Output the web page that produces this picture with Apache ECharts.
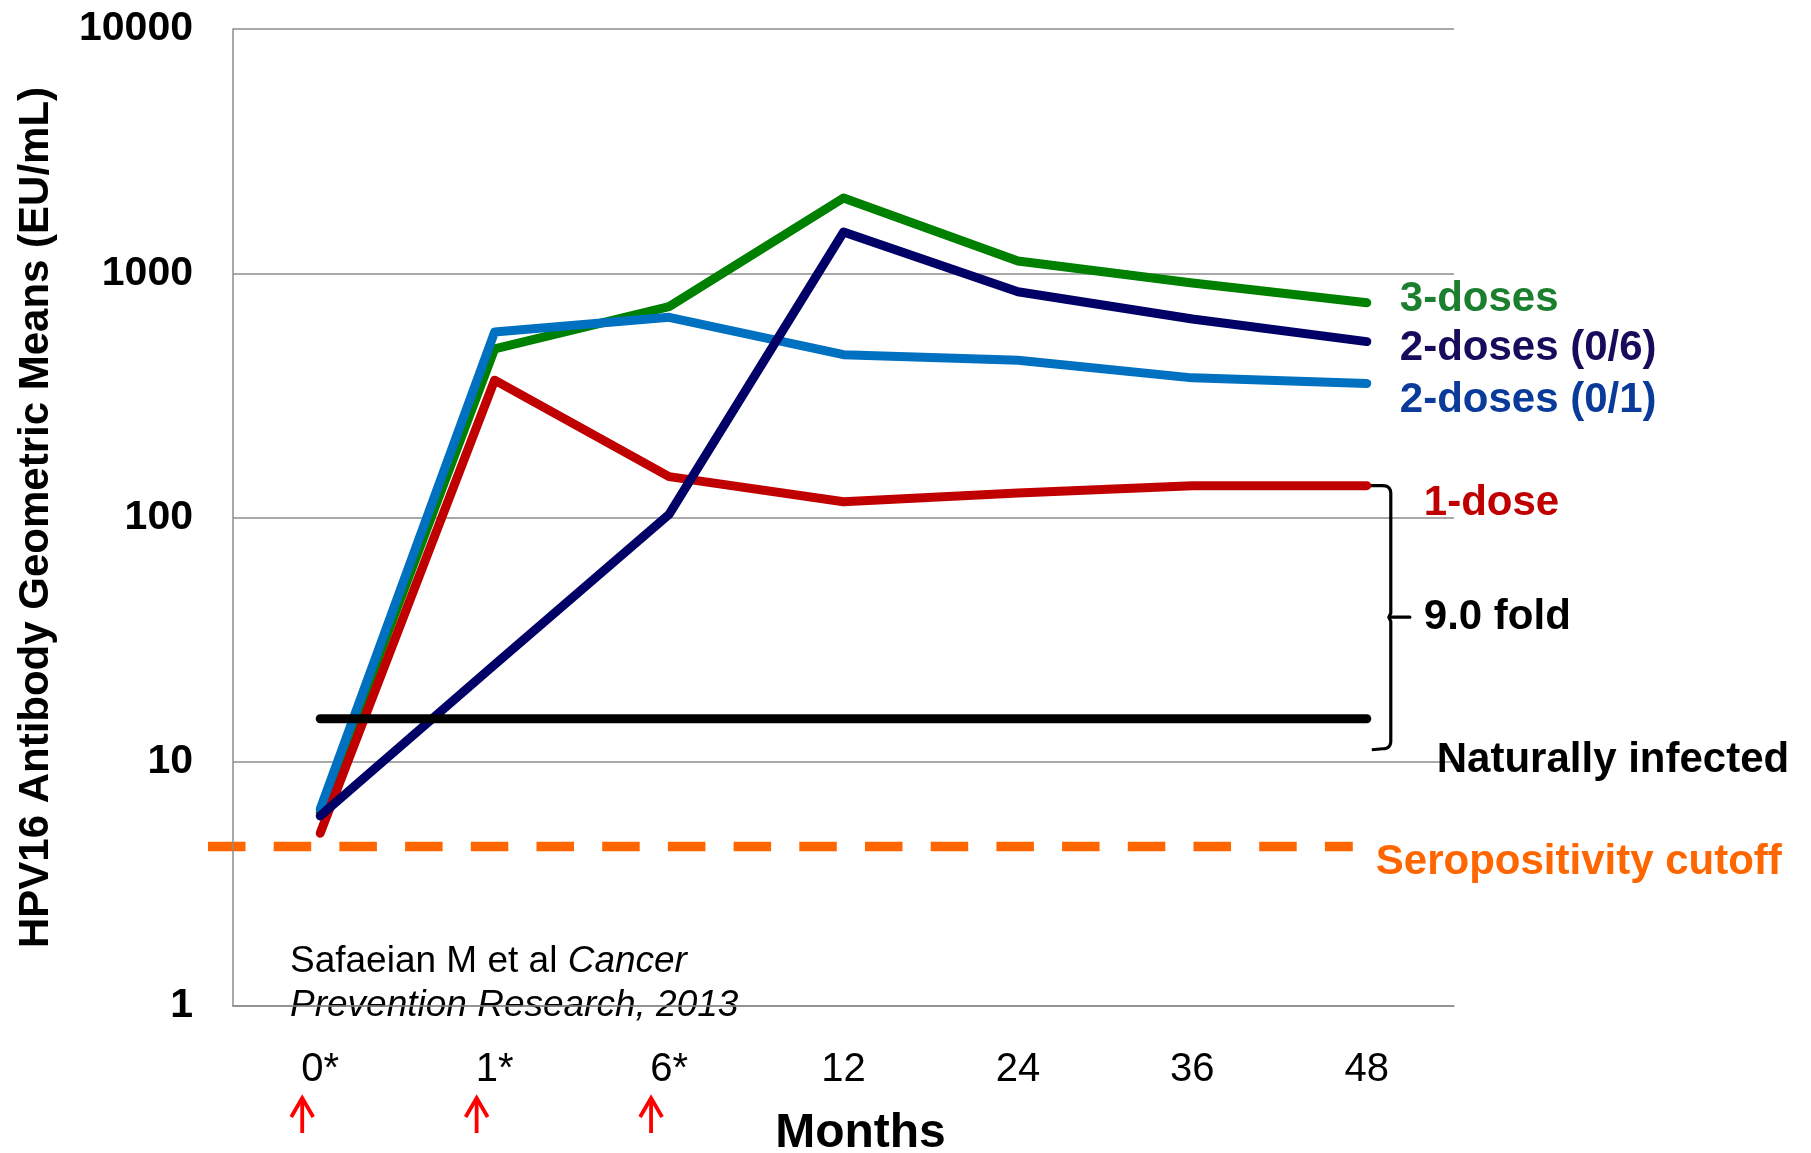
<!DOCTYPE html>
<html>
<head>
<meta charset="utf-8">
<script src="https://cdn.jsdelivr.net/npm/echarts@6/dist/echarts.min.js"></script>
<style>
  html, body { margin: 0; padding: 0; background: #ffffff; }
  #chart { width: 1811px; height: 1153px; }
</style>
</head>
<body>
<div id="chart"></div>
<script>
// Months after first dose (asterisk = dose given)
const months = ['0*', '1*', '6*', '12', '24', '36', '48'];
const doseMonths = ['0*', '1*', '6*'];

// HPV16 antibody geometric mean titres (EU/mL)
const threeDoses   = [6.2, 490, 730, 2032, 1122, 912, 757];
const twoDoses06   = [6.0, 25, 103, 1475, 840, 650, 525];
const twoDoses01   = [6.4, 575, 660, 464, 440, 373, 354];
const oneDose      = [5.1, 365, 147, 116, 126, 135, 135];
const naturallyInfected = [15.0, 15.0, 15.0, 15.0, 15.0, 15.0, 15.0];
const seropositivityCutoff = 4.5;
const foldLabel = '9.0 fold';

const FONT = '"Liberation Sans", Arial, Helvetica, sans-serif';
const GRID = { left: 233, top: 29, width: 1221, height: 977 };
const GRAY = '#8c8c8c';

const chart = echarts.init(document.getElementById('chart'), null, { renderer: 'canvas' });

function lineSeries(name, data, color) {
  return {
    name: name,
    type: 'line',
    data: data,
    symbol: 'none',
    silent: true,
    lineStyle: { color: color, width: 9, cap: 'round', join: 'round' },
    emphasis: { disabled: true }
  };
}

chart.setOption({
  animation: false,
  backgroundColor: '#ffffff',
  textStyle: { fontFamily: FONT },
  grid: Object.assign({ outerBoundsMode: 'none', containLabel: false }, GRID),
  xAxis: {
    type: 'category',
    data: months,
    boundaryGap: true,
    axisLine: { show: true, lineStyle: { color: GRAY, width: 1.5 } },
    axisTick: { show: false },
    axisLabel: { fontSize: 40, color: '#000', margin: 44, fontFamily: FONT },
    name: 'Months',
    nameLocation: 'middle',
    nameGap: 104,
    nameTextStyle: { fontSize: 48, fontWeight: 'bold', color: '#000', fontFamily: FONT, padding: [0, 0, 0, 34] }
  },
  yAxis: {
    type: 'log',
    logBase: 10,
    min: 1,
    max: 10000,
    axisLine: { show: true, lineStyle: { color: GRAY, width: 1.5 } },
    axisTick: { show: false },
    splitLine: { show: true, lineStyle: { color: GRAY, width: 1.5 } },
    axisLabel: {
      fontSize: 41, fontWeight: 'bold', color: '#000', margin: 40, fontFamily: FONT,
      formatter: function (v) { return String(Math.round(v)); }
    },
    name: 'HPV16 Antibody Geometric Means (EU/mL)',
    nameLocation: 'middle',
    nameGap: 176,
    nameRotate: 90,
    nameTextStyle: { fontSize: 42, fontWeight: 'bold', color: '#000', fontFamily: FONT }
  },
  series: [
    lineSeries('3-doses', threeDoses, '#008000'),
    lineSeries('2-doses (0/1)', twoDoses01, '#0070c0'),
    lineSeries('1-dose', oneDose, '#c00000'),
    lineSeries('2-doses (0/6)', twoDoses06, '#000066'),
    lineSeries('Naturally infected', naturallyInfected, '#000000')
  ]
});

// Annotations anchored to the data through the axes
const last = months.length - 1;
const px = (i, v) => chart.convertToPixel({ gridIndex: 0 }, [i, v]);
const xEnd = px(last, 1)[0];

function label(text, x, y, color, size, weight) {
  return {
    type: 'text', x: x, y: y, silent: true,
    style: {
      text: text, fill: color, align: 'left', verticalAlign: 'middle',
      font: (weight || 'bold') + ' ' + (size || 42) + 'px ' + FONT
    }
  };
}

const yThree = px(last, threeDoses[last])[1];
const yTwo06 = px(last, twoDoses06[last])[1];
const yTwo01 = px(last, twoDoses01[last])[1];
const yOne = px(last, oneDose[last])[1];
const yNat = px(last, naturallyInfected[last])[1];
const yCut = px(0, seropositivityCutoff)[1];

// Curly bracket between 1-dose and naturally infected
const yTop = yOne;
const yBot = yNat + 30;
const yMid = (yTop + yBot) / 2;
const xb = xEnd + 24;
const r = 8;
function quad(p0, c, p1, n) {
  const pts = [];
  for (let k = 1; k <= n; k++) {
    const t = k / n;
    pts.push([
      (1 - t) * (1 - t) * p0[0] + 2 * (1 - t) * t * c[0] + t * t * p1[0],
      (1 - t) * (1 - t) * p0[1] + 2 * (1 - t) * t * c[1] + t * t * p1[1]
    ]);
  }
  return pts;
}
let brace = [[xEnd + 4, yTop]];
brace.push([xb - r, yTop]);
brace = brace.concat(quad([xb - r, yTop], [xb, yTop], [xb, yTop + r], 8));
brace.push([xb, yMid - 4]);
brace.push([xb - 2, yMid]);
brace.push([xb, yMid + 4]);
brace.push([xb, yBot - r]);
brace = brace.concat(quad([xb, yBot - r], [xb, yBot], [xb - r, yBot], 8));
brace.push([xEnd + 5, yBot + 1]);

const graphics = [
  { type: 'polyline', silent: true, shape: { points: brace },
    style: { stroke: '#000', lineWidth: 3.2, fill: null, lineJoin: 'round' } },
  { type: 'line', silent: true, shape: { x1: xb - 1, y1: yMid, x2: xb + 19, y2: yMid },
    style: { stroke: '#000', lineWidth: 3.2, lineCap: 'round' } },
  // seropositivity cutoff
  { type: 'line', silent: true,
    shape: { x1: GRID.left - 25, y1: yCut, x2: xEnd - 14, y2: yCut },
    style: { stroke: '#ff6600', lineWidth: 9.5, lineDash: [37.5, 28.2], lineCap: 'butt' } },
  label('3-doses', xEnd + 33, yThree - 3, '#1b7f2f'),
  label('2-doses (0/6)', xEnd + 33, yTwo06 + 7, '#1a0a5c'),
  label('2-doses (0/1)', xEnd + 33, yTwo01 + 17, '#0a3a9a'),
  label('1-dose', xEnd + 57, yOne + 18, '#c00000'),
  label(foldLabel, xEnd + 57, yMid, '#000'),
  label('Naturally infected', xEnd + 70, yNat + 42, '#000'),
  label('Seropositivity cutoff', xEnd + 9, yCut + 16, '#ff6600'),
  // citation
  {
    type: 'text', x: 290, y: 962, silent: true,
    style: {
      text: '{n|Safaeian M et al }{i|Cancer}', align: 'left', verticalAlign: 'middle',
      rich: {
        n: { fontSize: 37, fontFamily: FONT, fill: '#000', color: '#000' },
        i: { fontSize: 37, fontFamily: FONT, fontStyle: 'italic', fill: '#000', color: '#000' }
      }
    }
  },
  {
    type: 'text', x: 290, y: 1006, silent: true,
    style: { text: 'Prevention Research, 2013', fill: '#000', align: 'left', verticalAlign: 'middle',
             font: 'italic 37px ' + FONT }
  }
];

// Red arrows under the dose months
doseMonths.forEach(function (m) {
  const x = px(months.indexOf(m), 1)[0] - 18;
  const top = 1097, bottom = 1133;
  graphics.push({ type: 'line', silent: true, shape: { x1: x, y1: top + 2, x2: x, y2: bottom },
    style: { stroke: '#ff0000', lineWidth: 3.8 } });
  graphics.push({ type: 'polyline', silent: true,
    shape: { points: [[x - 11, top + 20], [x, top + 1], [x + 11, top + 20]] },
    style: { stroke: '#ff0000', lineWidth: 3.8, fill: null, lineJoin: 'miter' } });
});

chart.setOption({ graphic: graphics });
</script>
</body>
</html>
